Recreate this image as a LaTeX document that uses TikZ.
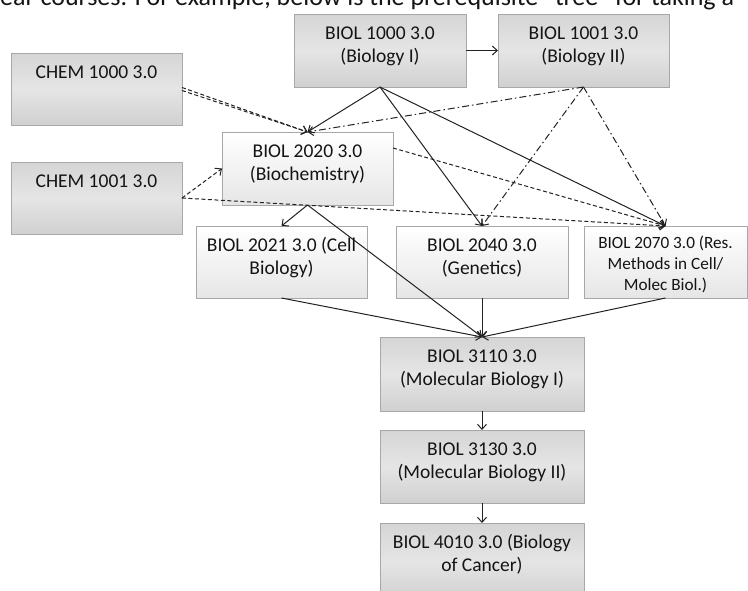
\documentclass[tikz,border=0pt]{standalone}
\usepackage{fontspec}
\setmainfont{Carlito}
\usetikzlibrary{arrows.meta,calc,shadows}

\definecolor{boxborder}{HTML}{A8A8A8}
\definecolor{graytop}{HTML}{D5D5D5}
\definecolor{graymid}{HTML}{E5E5E5}
\definecolor{graybot}{HTML}{D0D0D0}
\definecolor{whitebot}{HTML}{E6E6E6}
\definecolor{linecol}{HTML}{222222}
\definecolor{txtcol}{HTML}{141414}

\newcommand{\boxtxt}[3]{\parbox[c][#2pt][t]{#1pt}{\centering\fontsize{19.5}{23.8}\selectfont\rule{0pt}{25pt}#3}}
\newcommand{\smallboxtxt}[3]{\parbox[c][#2pt][t]{#1pt}{\centering\fontsize{17.2}{21}\selectfont\rule{0pt}{22.5pt}#3}}

\tikzset{
  box/.style={draw=boxborder, line width=0.9pt, inner sep=0pt, outer sep=0pt,
    text=txtcol, drop shadow={shadow xshift=0.8pt, shadow yshift=-1.2pt, opacity=0.2}},
  graybox/.style={box, top color=graytop, bottom color=graybot, middle color=graymid},
  whitebox/.style={box, top color=white, bottom color=whitebot},
  conn/.style={draw=linecol, line width=1pt},
  arr/.style={conn, -{Straight Barb[length=5pt,width=9pt]}},
  ddash/.style={dash pattern=on 4pt off 2.5pt},
  dshdot/.style={dash pattern=on 7pt off 3pt on 1.5pt off 3pt},
}

\begin{document}
\begin{tikzpicture}[x=1pt, y=-1pt]
\useasboundingbox (0,0) rectangle (748,590);
\clip (0,0) rectangle (748,590);

% intro text (cut at the top of the picture)
\node[anchor=base west, inner sep=0pt, text=txtcol, font=\fontsize{26}{30}\selectfont] (intro) at (0,5.7)
  {ear courses. For example, below is the prerequisite “tree” for taking a};

% boxes
\node[graybox] (c1000) at (96.5,89) {\boxtxt{171}{72}{CHEM 1000 3.0}};
\node[graybox] (c1001) at (96.5,198) {\boxtxt{171}{72}{CHEM 1001 3.0}};
\node[graybox] (b1000) at (380,50.5) {\boxtxt{172}{73}{BIOL 1000 3.0\\(Biology I)}};
\node[graybox] (b1001) at (583.5,50.5) {\boxtxt{171}{73}{BIOL 1001 3.0\\(Biology II)}};
\node[whitebox] (b2020) at (307.5,168.5) {\boxtxt{171}{73}{BIOL 2020 3.0\\(Biochemistry)}};
\node[whitebox] (b2021) at (281.5,262) {\boxtxt{171}{72}{BIOL 2021 3.0 (Cell\\Biology)}};
\node[whitebox] (b2040) at (482,262) {\boxtxt{172}{72}{BIOL 2040 3.0\\(Genetics)}};
\node[whitebox] (b2070) at (665.5,262) {\smallboxtxt{163}{72}{BIOL 2070 3.0 (Res.\\Methods in Cell/\\Molec Biol.)}};
\node[graybox] (b3110) at (482,374) {\boxtxt{204}{74}{BIOL 3110 3.0\\(Molecular Biology I)}};
\node[graybox] (b3130) at (482,466.5) {\boxtxt{204}{73}{BIOL 3130 3.0\\(Molecular Biology II)}};
\node[graybox] (b4010) at (482,561.5) {\boxtxt{204}{77}{BIOL 4010 3.0 (Biology\\of Cancer)}};

% solid prerequisites
\draw[arr] (b1000.east) -- (b1001.west);
\draw[arr] (b1000.south) -- (b2020.north);
\draw[arr] (b1000.south) -- (b2040.north);
\draw[arr] (b1000.south) -- (b2070.north);
\draw[arr] (b2020.south) -- (b2021.north);
\draw[arr] (b2020.south) -- (b3110.north);
\draw[arr] (b2021.south) -- (b3110.north);
\draw[arr] (b2040.south) -- (b3110.north);
\draw[arr] (b2070.south) -- (b3110.north);
\draw[arr] (b3110.south) -- (b3130.north);
\draw[arr] (b3130.south) -- (b4010.north);

% dash-dot from BIOL 1001
\draw[arr, dshdot] (b1001.south) -- (b2020.north);
\draw[arr, dshdot] (b1001.south) -- (b2040.north);
\draw[arr, dshdot] (b1001.south) -- (b2070.north);

% dashed
\draw[arr, ddash] ($(c1000.east)+(0,-1.5)$) -- (b2020.north);
\draw[arr, ddash] ($(c1000.east)+(0,1.5)$) -- (b2020.north);
\draw[arr, ddash] (c1001.east) -- (b2020.west);
\draw[arr, ddash] (c1001.east) -- (b2070.north);
\draw[arr, ddash] ($(b2020.east)+(0,-20.5)$) -- (b2070.north);
\end{tikzpicture}
\end{document}
